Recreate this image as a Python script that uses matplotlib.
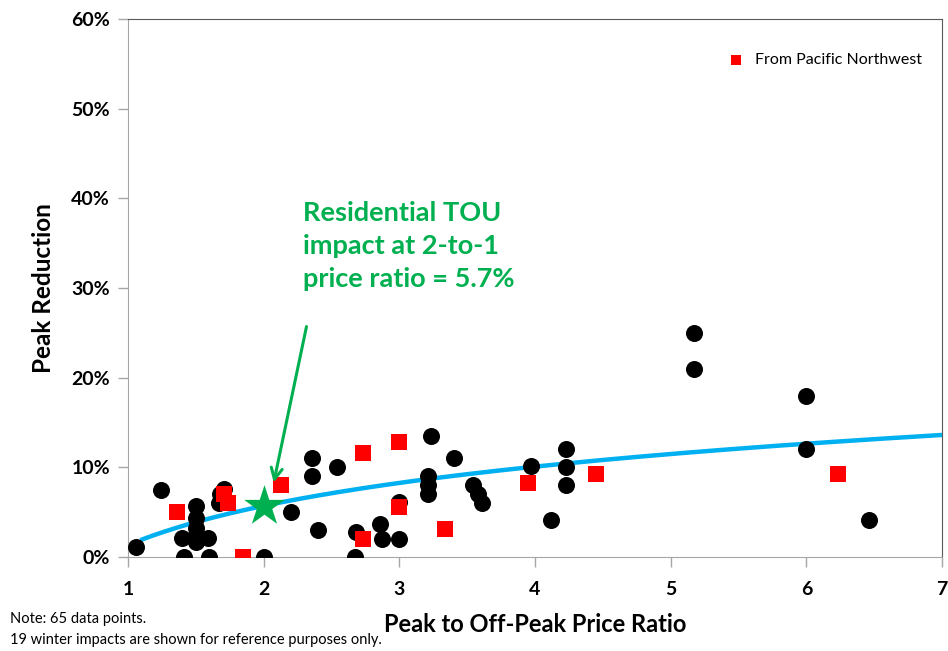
import numpy as np
import matplotlib
matplotlib.use('Agg')
import matplotlib.pyplot as plt
from matplotlib.ticker import PercentFormatter

plt.rcParams['font.family'] = ['Lato', 'DejaVu Sans']

# ___ DATA ___
# other pilots: price ratio, peak reduction (%)
other_x = [1.06, 1.24, 1.40, 1.41, 1.50, 1.50, 1.50, 1.50, 1.50, 1.59, 1.60,
           1.71, 1.68, 1.67, 2.00, 2.20, 2.36, 2.36, 2.54, 2.40, 2.68, 2.67,
           2.86, 2.87, 3.00, 3.00, 3.23, 3.21, 3.21, 3.21, 3.40, 3.54, 3.58,
           3.61, 3.97, 4.12, 4.23, 4.23, 4.23, 5.17, 5.17, 6.00, 6.00, 6.46]
other_y = [1.1, 7.5, 2.1, 0.0, 5.7, 4.3, 3.2, 2.5, 1.7, 2.1, 0.0,
           7.6, 7.0, 6.0, 0.0, 5.0, 11.0, 9.0, 10.0, 3.0, 2.8, 0.0,
           3.7, 2.0, 2.0, 6.1, 13.5, 9.0, 8.0, 7.0, 11.0, 8.0, 7.0,
           6.0, 10.1, 4.1, 12.0, 10.0, 8.0, 25.0, 21.0, 18.0, 12.0, 4.1]

# pilots from the Pacific Northwest
pnw_x = [1.36, 1.71, 1.74, 1.85, 2.13, 2.73, 3.00, 3.00, 2.73, 3.34, 3.95, 4.45, 6.23]
pnw_y = [5.0, 7.0, 6.0, 0.0, 8.0, 11.6, 12.8, 5.6, 2.0, 3.1, 8.2, 9.3, 9.3]

# logarithmic trend line: y = a + b * ln(x)
trend_a = 1.33
trend_b = 6.31
trend_start = 1.09
trend_end = 7.0

star_x = 2.0
star_y = 5.7

x_ticks = [1, 2, 3, 4, 5, 6, 7]
y_ticks = [0, 10, 20, 30, 40, 50, 60]

# ___ PLOT ___
fig = plt.figure(figsize=(9.48, 6.51), dpi=100)
ax = fig.add_axes([0.135, 0.1444, 0.8587, 0.8264])

green = '#00B050'
light = '#A6A6A6'
dark = '#595959'

xs = np.linspace(trend_start, trend_end, 200)
ax.plot(xs, trend_a + trend_b * np.log(xs), color='#00B0F0', lw=3.2, zorder=3,
        solid_capstyle='butt')

ax.scatter(other_x, other_y, s=150, color='black', zorder=4, linewidths=0)
ax.scatter(pnw_x, pnw_y, s=130, marker='s', color='#FF0000', zorder=5,
           linewidths=0, label='From Pacific Northwest')
ax.scatter([star_x], [star_y], s=950, marker='*', color=green, zorder=6, linewidths=0)

ax.annotate('', xy=(2.07, 8.0), xytext=(2.32, 26.0),
            arrowprops=dict(arrowstyle='->', color=green, lw=2.2,
                            mutation_scale=20), zorder=6)
ax.text(2.29, 39.7, 'Residential TOU\nimpact at 2-to-1\nprice ratio = 5.7%',
        color=green, fontsize=19.5, fontweight='bold', va='top', ha='left',
        linespacing=1.45)

ax.set_xlim(1, 7)
ax.set_ylim(0, 60)
ax.set_xticks(x_ticks)
ax.set_yticks(y_ticks)
ax.yaxis.set_major_formatter(PercentFormatter(decimals=0))

for side in ['left', 'bottom']:
    ax.spines[side].set_color(light)
for side in ['top', 'right']:
    ax.spines[side].set_color(dark)
ax.tick_params(axis='both', colors=light, length=7, width=1, labelcolor='black')
ax.tick_params(axis='x', pad=10)
ax.tick_params(axis='y', pad=6)
for lab in ax.get_xticklabels() + ax.get_yticklabels():
    lab.set_fontweight('bold')
    lab.set_fontsize(14)

ax.set_xlabel('Peak to Off-Peak Price Ratio', fontsize=17, fontweight='bold', labelpad=11)
ax.set_ylabel('Peak Reduction', fontsize=17.5, fontweight='bold', labelpad=12)

ax.legend(loc='upper right', bbox_to_anchor=(1.019, 1.003), frameon=False,
          fontsize=11.5, handletextpad=0.2, markerscale=0.6, borderaxespad=1.8)

fig.text(0.011, 0.049, 'Note: 65 data points.', fontsize=10.5, va='center')
fig.text(0.011, 0.017, '19 winter impacts are shown for reference purposes only.',
         fontsize=10.5, va='center')

fig.savefig('out.png', dpi=100)
